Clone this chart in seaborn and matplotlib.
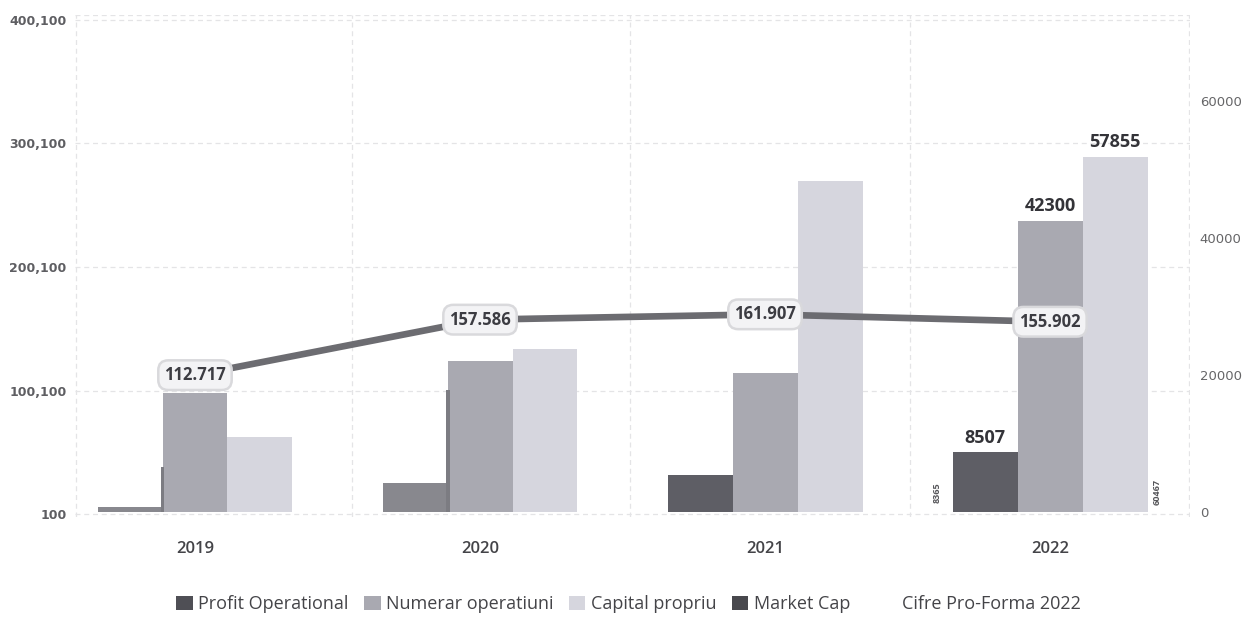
import numpy as np
import pandas as pd
import matplotlib
matplotlib.use("Agg")
import matplotlib.pyplot as plt
import seaborn as sns
from matplotlib.patches import Patch

# ---------------- data ----------------
years = ["2019", "2020", "2021", "2022"]
series = ["Profit Operational", "Numerar operatiuni", "Capital propriu"]
profit_operational = [700, 4200, 5400, 8760]
numerar_operatiuni = [17400, 22000, 20300, 42500]
capital_propriu = [10900, 23800, 48300, 51800]
thin_marks = [6600, 17800, np.nan, np.nan]
market_cap = [112717, 157586, 161907, 155902]
market_cap_labels = ["112.717", "157.586", "161.907", "155.902"]
bar_labels_2022 = ["8507", "42300", "57855"]
side_notes = ["8365", "60467"]
side_note_values = [2900, 2900]
left_ticks = [100, 100100, 200100, 300100, 400100]
left_tick_labels = ["100", "100,100", "200,100", "300,100", "400,100"]
right_ticks = [0, 20000, 40000, 60000]
right_tick_labels = ["0", "20000", "40000", "60000"]
legend_labels = ["Profit Operational", "Numerar operatiuni", "Capital propriu", "Market Cap"]
note_text = "Cifre Pro-Forma 2022"

df = pd.DataFrame({
    "year": years * 3,
    "series": [s for s in series for _ in years],
    "value": profit_operational + numerar_operatiuni + capital_propriu,
})

# ---------------- style ----------------
sns.set_theme(style="white")
plt.rcParams["font.family"] = ["Open Sans", "DejaVu Sans"]

col_profit = "#5e5e65"
col_profit_light = "#88888e"
col_numerar = "#a9a9b1"
col_capital = "#d6d6de"
col_line = "#6c6c71"
grid_col = "#e4e4e6"

W, H = 1251, 619
fig = plt.figure(figsize=(W / 100, H / 100), dpi=100)
fig.patch.set_facecolor("white")
ax = fig.add_axes([75 / W, 1 - 517 / H, (1190 - 75) / W, (517 - 15) / H])

R_LIM = (-700, 72500)
L_LIM = (-2000, 404000)
XLIM = (-0.421, 3.491)
group_w = 0.684

sns.barplot(data=df, x="year", y="value", hue="series",
            palette=[col_profit, col_numerar, col_capital],
            width=group_w, gap=0, saturation=1, linewidth=0,
            legend=False, ax=ax, zorder=2)

# lighter profit bars for 2019/2020
for i, p in enumerate(ax.containers[0]):
    if i < 2:
        p.set_facecolor(col_profit_light)

# thin marks
ax.bar(np.arange(len(years)) - group_w / 6, thin_marks, width=0.014,
       color="#7c7c82", zorder=3, linewidth=0)

ax.set_xlim(*XLIM)
ax.set_ylim(*R_LIM)

# gridlines (behind bars), horizontal at left-axis ticks
def left_to_right(v):
    f = (v - L_LIM[0]) / (L_LIM[1] - L_LIM[0])
    return R_LIM[0] + f * (R_LIM[1] - R_LIM[0])

for v in left_ticks:
    ax.axhline(left_to_right(v), color=grid_col, lw=0.9, ls=(0, (4, 3)), zorder=0)
for xv in [XLIM[0] + 0.003, 0.55, 1.526, 2.509, XLIM[1] - 0.003]:
    ax.axvline(xv, color=grid_col, lw=0.9, ls=(0, (4, 3)), zorder=0)
ax.axhline(R_LIM[1], color=grid_col, lw=0.9, ls=(0, (4, 3)), zorder=0)

# bar labels 2022
offs = [-group_w / 3, 0, group_w / 3]
vals2022 = [profit_operational[3], numerar_operatiuni[3], capital_propriu[3]]
for o, v, lab in zip(offs, vals2022, bar_labels_2022):
    ax.annotate(lab, (3 + o, v), xytext=(0, 4), textcoords="offset points",
                ha="center", va="bottom", fontsize=13, fontweight="bold",
                color="#333338", zorder=6)

# side notes
for xpos, v, lab in zip([2.604, 3.375], side_note_values, side_notes):
    ax.text(xpos, v, lab, rotation=90, ha="center", va="center",
            fontsize=6.5, fontweight="bold", color="#555559")

ax.set_xticks(range(len(years)))
ax.set_xticklabels(years)
ax.tick_params(axis="x", length=0, pad=17, labelsize=12, labelcolor="#444448")
for t in ax.get_xticklabels():
    t.set_fontweight("semibold")
ax.set_xlabel("")
ax.set_ylabel("")
for s in ax.spines.values():
    s.set_visible(False)

# ---------------- line on left axis ----------------
ax2 = ax.twinx()
ax2.set_ylim(*L_LIM)
sns.lineplot(x=np.arange(len(years)), y=market_cap, ax=ax2, color=col_line,
             lw=4.8, zorder=4)
for i, (v, lab) in enumerate(zip(market_cap, market_cap_labels)):
    ax2.text(i, v, lab, ha="center", va="center", fontsize=12,
             fontweight="bold", color="#3c3c42", zorder=5,
             bbox=dict(boxstyle="round,pad=0.35,rounding_size=0.6",
                       fc="#f3f3f5", ec="#d9d9dc", lw=1.8))
ax2.set_xlim(*XLIM)
for s in ax2.spines.values():
    s.set_visible(False)
ax2.set_ylabel("")

# right-side ticks on primary axis (bars), left-side ticks on twin (line)
ax.yaxis.set_ticks_position("right")
ax.yaxis.set_label_position("right")
ax.set_yticks(right_ticks)
ax.set_yticklabels(right_tick_labels, family="DejaVu Sans")
ax.tick_params(axis="y", which="both", left=False, right=False, labelleft=False,
               labelright=True, length=0, pad=7, labelsize=9.5, labelcolor="#666668")

ax2.yaxis.set_ticks_position("left")
ax2.yaxis.set_label_position("left")
ax2.set_yticks(left_ticks)
ax2.set_yticklabels(left_tick_labels, family="DejaVu Sans", fontweight="bold")
ax2.tick_params(axis="y", which="both", left=False, right=False, labelleft=True,
                labelright=False, length=0, pad=6, labelsize=9, labelcolor="#5e5e62")

# ---------------- legend ----------------
handles = [Patch(fc="#4f4f55", ec="none"),
           Patch(fc=col_numerar, ec="none"),
           Patch(fc=col_capital, ec="none"),
           Patch(fc="#48484d", ec="none")]
fig.legend(handles, legend_labels, loc="center left",
           bbox_to_anchor=(160 / W, 1 - 604 / H),
           ncol=4, frameon=False, handlelength=0.92, handleheight=0.82,
           handletextpad=0.3, columnspacing=0.85, fontsize=13,
           labelcolor="#444448")
fig.text(902 / W, 1 - 604 / H, note_text, ha="left", va="center",
         fontsize=13, color="#444448")

fig.savefig("out.png", dpi=100, facecolor="white")
